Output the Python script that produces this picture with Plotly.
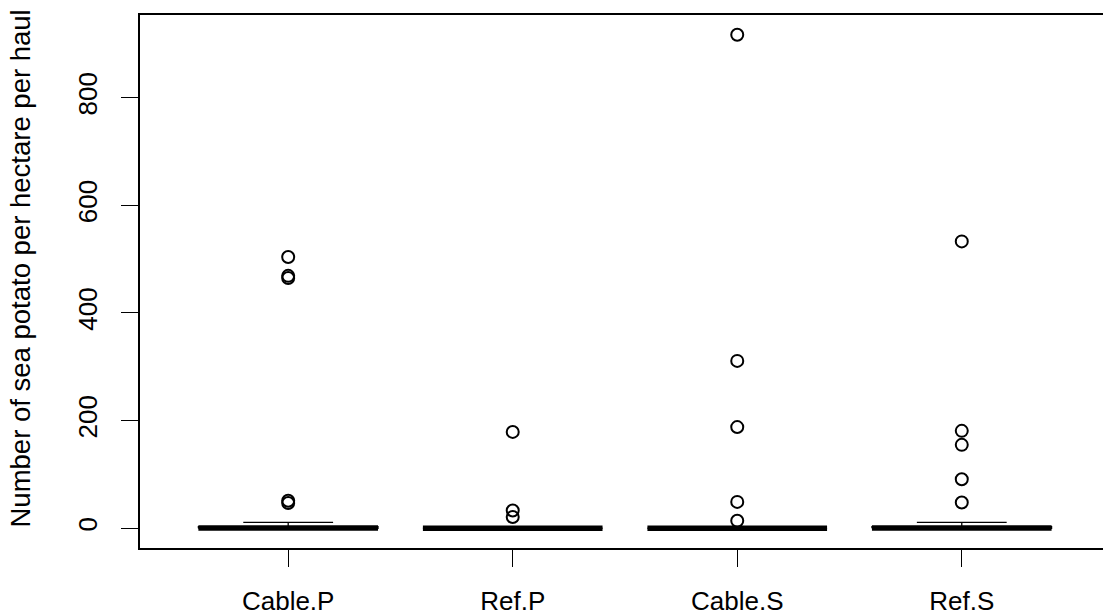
import plotly.graph_objects as go

categories = ["Cable.P", "Ref.P", "Cable.S", "Ref.S"]
q1 = [0, 0, 0, 0]
median = [0.5, 0, 0, 0.5]
q3 = [3, 0, 0, 3]
whisk_lo = [0, 0, 0, 0]
whisk_hi = [11, 0, 0, 11]
outliers = [
    [504, 469, 465, 51, 47],
    [179, 33, 21],
    [917, 311, 188, 49, 14],
    [533, 181, 155, 91, 48],
]
y_ticks = [0, 200, 400, 600, 800]
y_title = "Number of sea potato per hectare per haul"

FONT = "Liberation Sans, Arial, sans-serif"
boxwex = 0.8
staple = 0.4

fig = go.Figure()
for i, cat in enumerate(categories):
    x = i + 1
    xl, xr = x - boxwex / 2, x + boxwex / 2
    # whiskers (dashed)
    fig.add_trace(go.Scatter(x=[x, x, None, x, x], y=[q3[i], whisk_hi[i], None, q1[i], whisk_lo[i]],
                             mode="lines", line=dict(color="black", width=1.3, dash="dash"),
                             hoverinfo="skip", showlegend=False))
    # staples
    fig.add_trace(go.Scatter(x=[x - staple / 2, x + staple / 2, None, x - staple / 2, x + staple / 2],
                             y=[whisk_hi[i], whisk_hi[i], None, whisk_lo[i], whisk_lo[i]],
                             mode="lines", line=dict(color="black", width=1.3),
                             hoverinfo="skip", showlegend=False))
    # box
    fig.add_trace(go.Scatter(x=[xl, xr, xr, xl, xl], y=[q1[i], q1[i], q3[i], q3[i], q1[i]],
                             mode="lines", line=dict(color="black", width=1.3),
                             hoverinfo="skip", showlegend=False))
    # median
    fig.add_trace(go.Scatter(x=[xl, xr], y=[median[i], median[i]],
                             mode="lines", line=dict(color="black", width=5.5),
                             hoverinfo="skip", showlegend=False))
    # outliers
    fig.add_trace(go.Scatter(x=[x] * len(outliers[i]), y=outliers[i], mode="markers",
                             marker=dict(symbol="circle-open", size=12, color="black",
                                         line=dict(width=2, color="black")),
                             showlegend=False, name=cat))

all_vals = [v for o in outliers for v in o] + q1
ymin, ymax = min(all_vals), max(all_vals)
pad = (ymax - ymin) * 0.04
n = len(categories)
xpad = n * 0.04

fig.update_layout(
    width=1103, height=615,
    margin=dict(l=140, r=0, t=15, b=67),
    plot_bgcolor="white", paper_bgcolor="white",
    font=dict(family=FONT, color="black", size=26),
    xaxis=dict(range=[0.5 - xpad, 4.629], tickmode="array", tickvals=[1, 2, 3, 4],
               ticktext=categories,
               showline=True, mirror=True, linecolor="black", linewidth=1.6,
               ticks="outside", ticklen=17, tickwidth=1.4, tickcolor="black",
               ticklabelstandoff=12,
               showgrid=False, zeroline=False, tickfont=dict(size=26, family=FONT)),
    yaxis=dict(range=[ymin - pad, ymax + pad], tickmode="array", tickvals=y_ticks,
               showline=True, linecolor="black", linewidth=1.6,
               ticks="outside", ticklen=17, tickwidth=1.4, tickcolor="black",
               ticklabelstandoff=14,
               tickangle=-90, showgrid=False, zeroline=False,
               tickfont=dict(size=26, family=FONT)),
    annotations=[dict(text=y_title, xref="paper", yref="paper", x=0, y=0.5, xshift=-120,
                      yshift=13, xanchor="center", yanchor="middle", textangle=-90,
                      showarrow=False, font=dict(size=27.5, family=FONT, color="black"))],
)

fig.write_html("out.html", config={"displayModeBar": False},
               post_script="document.body.style.margin='0';document.body.style.overflow='hidden';")
